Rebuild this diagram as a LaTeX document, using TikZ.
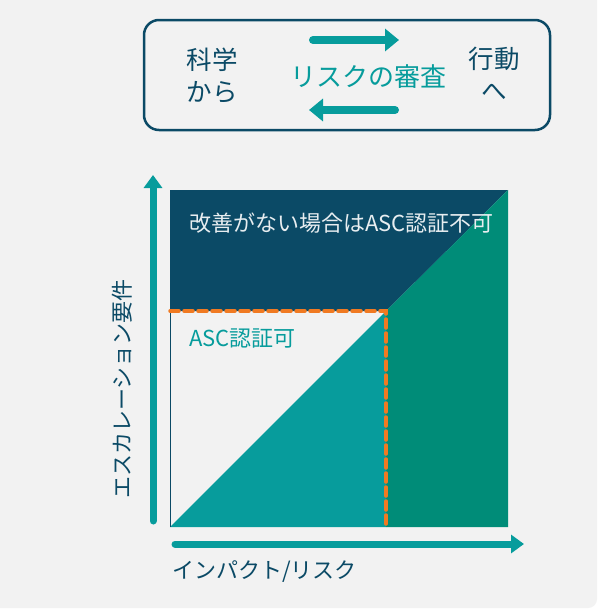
\documentclass[tikz,border=0pt]{standalone}
\usepackage{fontspec}
\setmainfont{Noto Sans CJK JP}
\usetikzlibrary{arrows.meta}
\definecolor{navy}{HTML}{0B4A66}
\definecolor{tealc}{HTML}{079C9C}
\definecolor{greenc}{HTML}{008C78}
\definecolor{orangec}{HTML}{F07A22}
\definecolor{bgc}{HTML}{F2F2F2}
\tikzset{
  bigarrow/.style={draw=tealc, line width=8pt, line cap=round, -{Triangle[length=14pt,width=22pt]}},
  axisarrow/.style={draw=tealc, line width=7pt, line cap=round, -{Triangle[length=13pt,width=18pt]}},
  navytext/.style={text=navy, font=\fontsize{25.5}{32}\selectfont, align=center},
  axislabel/.style={text=navy, font=\fontsize{22}{26}\selectfont, inner sep=0pt},
  charttext/.style={anchor=west, font=\fontsize{22}{26}\selectfont, inner sep=0pt},
}
\begin{document}
\begin{tikzpicture}[x=1pt,y=-1pt]
\useasboundingbox (0,0) rectangle (605,611);
\clip (0,0) rectangle (605,611);
\fill[white] (0,0) rectangle (605,611);
\fill[bgc, rounded corners=9pt] (-20,-20) rectangle (597,608);
% top box
\node[draw=navy, line width=2.5pt, rounded corners=15pt, minimum width=406pt, minimum height=110pt] (topbox) at (347,75) {};
\node[navytext] (sci) at (212,76) {科学\\から};
\node[navytext] (act) at (494,74) {行動\\へ};
\node[text=tealc, font=\fontsize{26}{30}\selectfont] (risk) at (368,77) {リスクの審査};
\coordinate (a1s) at (313,40);
\coordinate (a1e) at (399,40);
\coordinate (a2s) at (395,110);
\coordinate (a2e) at (309,110);
\draw[bigarrow] (a1s) -- (a1e);
\draw[bigarrow] (a2s) -- (a2e);
% chart
\fill[navy] (170,190) -- (508,190) -- (386,311) -- (170,311) -- cycle;
\fill[greenc] (508,190) -- (508,527) -- (386,527) -- (386,311) -- cycle;
\fill[tealc] (170,527) -- (386,311) -- (386,527) -- cycle;
\draw[navy, line width=1pt] (170,311) -- (170,527);
\draw[orangec, line width=3.5pt, dash pattern=on 9pt off 5pt, line cap=round] (170,311) -- (386,311) -- (386,527);
\node[charttext, text=white!90!navy] (nochg) at (189,223) {改善がない場合はASC認証不可};
\node[charttext, text=tealc] (okc) at (189,339) {ASC認証可};
% axes
\coordinate (ys) at (153,521);
\coordinate (ye) at (153,175);
\coordinate (xs) at (175,544);
\coordinate (xe) at (524,544);
\draw[axisarrow] (ys) -- (ye);
\draw[axisarrow] (xs) -- (xe);
\node[axislabel, rotate=90] (ylab) at (122,389) {エスカレーション要件};
\node[axislabel, anchor=west] (xlab) at (172,572) {インパクト/リスク};
\end{tikzpicture}
\end{document}
